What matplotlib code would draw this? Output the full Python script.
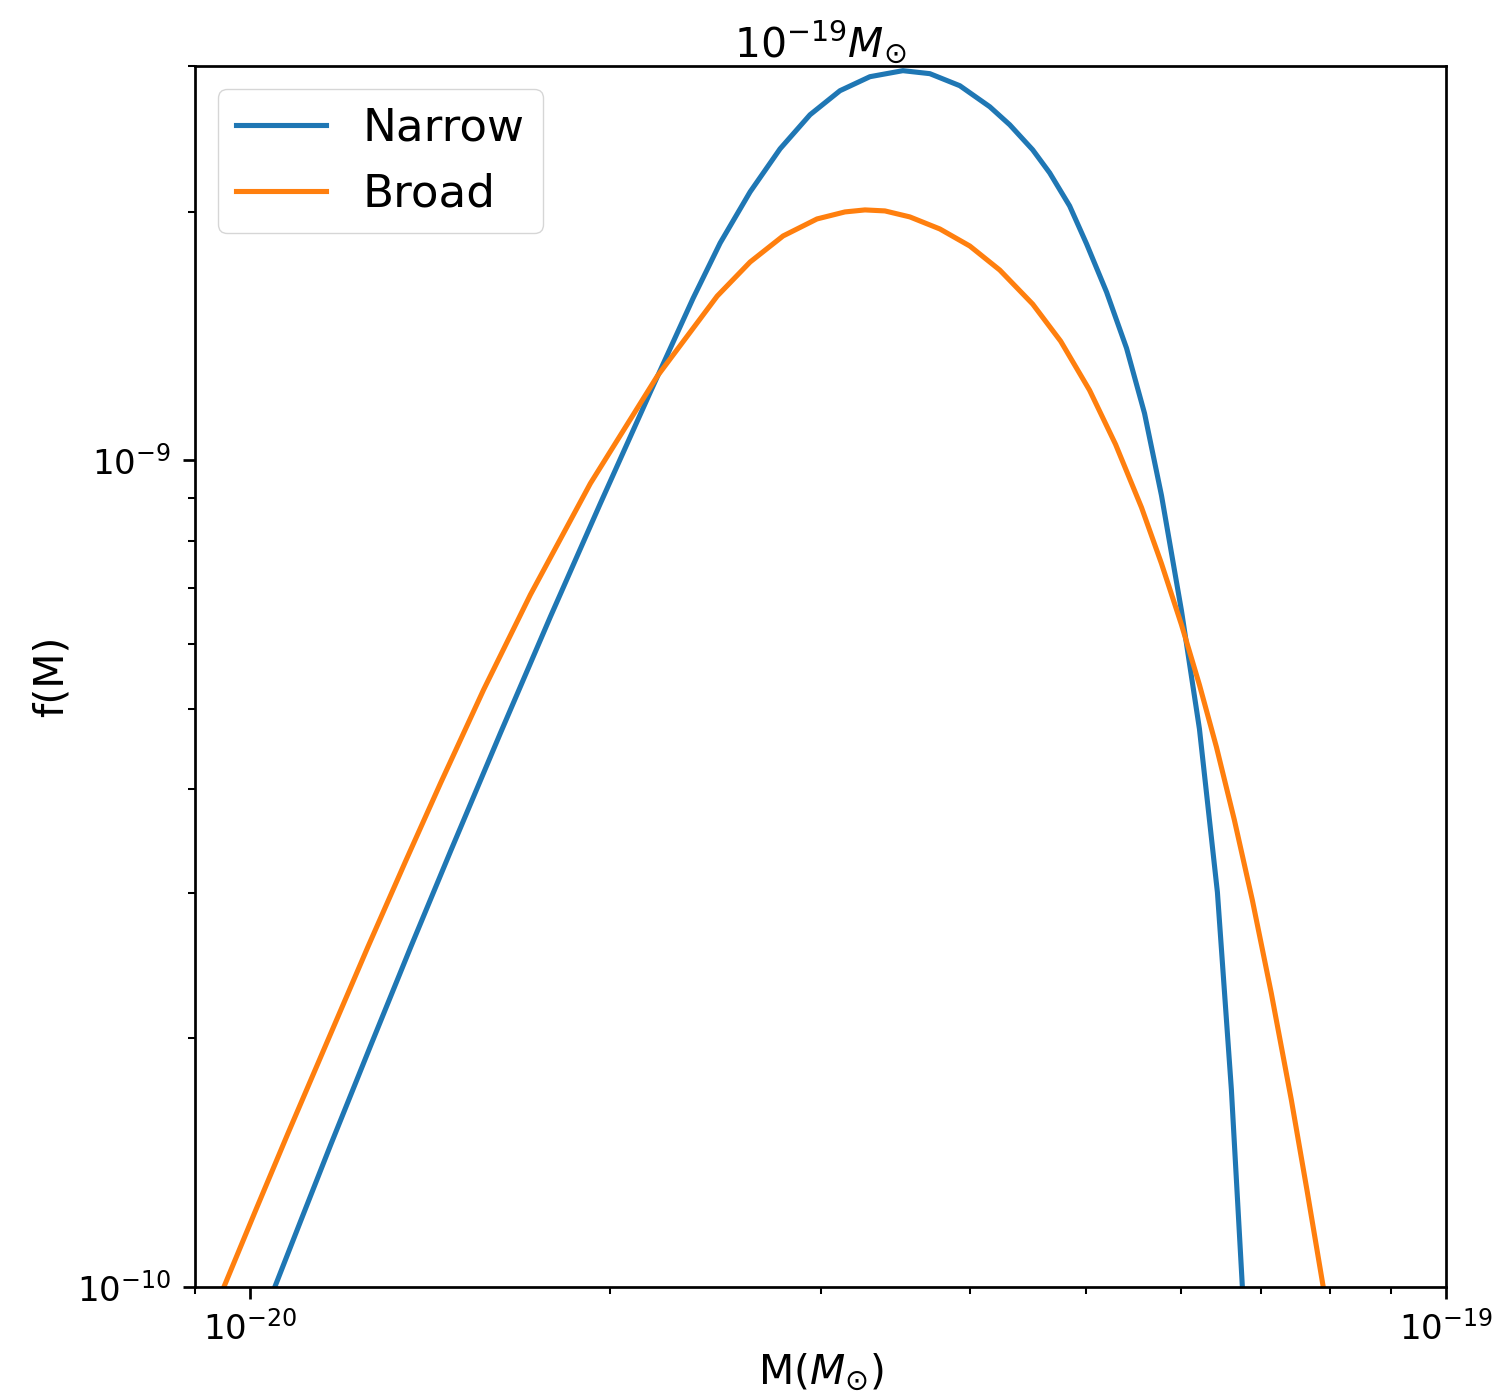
import numpy as np
import matplotlib
matplotlib.use("Agg")
import matplotlib.pyplot as plt

# values (M in solar masses, f(M))
m_narrow = [1.0492e-20, 1.1030e-20, 1.1684e-20, 1.2618e-20, 1.3626e-20, 1.4716e-20,
            1.6200e-20, 1.7834e-20, 1.9633e-20, 2.1612e-20, 2.3475e-20, 2.4726e-20,
            2.6193e-20, 2.7749e-20, 2.9395e-20, 3.1140e-20, 3.2989e-20, 3.5149e-20,
            3.7021e-20, 3.9219e-20, 4.1547e-20, 4.3176e-20, 4.5127e-20, 4.6625e-20,
            4.8452e-20, 5.0061e-20, 5.2023e-20, 5.4062e-20, 5.5965e-20, 5.7823e-20,
            6.0090e-20, 6.2205e-20, 6.4395e-20, 6.6150e-20, 6.7565e-20]
f_narrow = [1.000e-10, 1.2030e-10, 1.4864e-10, 1.9594e-10, 2.5757e-10, 3.3671e-10,
            4.6807e-10, 6.4705e-10, 8.8693e-10, 1.2090e-9, 1.5717e-9, 1.8325e-9,
            2.1127e-9, 2.3822e-9, 2.6192e-9, 2.8007e-9, 2.9122e-9, 2.9615e-9,
            2.9369e-9, 2.8400e-9, 2.6784e-9, 2.5471e-9, 2.3755e-9, 2.2279e-9,
            2.0317e-9, 1.8274e-9, 1.5982e-9, 1.3670e-9, 1.1402e-9, 9.0697e-10,
            6.5797e-10, 4.7331e-10, 3.0031e-10, 1.7329e-10, 1.000e-10]

m_broad = [9.5125e-21, 1.0116e-20, 1.0758e-20, 1.1617e-20, 1.2546e-20, 1.3496e-20,
           1.4436e-20, 1.5680e-20, 1.7161e-20, 1.9260e-20, 2.1905e-20, 2.4585e-20,
           2.6193e-20, 2.7909e-20, 2.9793e-20, 3.1441e-20, 3.2674e-20, 3.3954e-20,
           3.5625e-20, 3.7740e-20, 3.9979e-20, 4.2355e-20, 4.5127e-20, 4.7622e-20,
           5.0350e-20, 5.2931e-20, 5.5642e-20, 5.7823e-20, 6.0090e-20, 6.2205e-20,
           6.4271e-20, 6.6534e-20, 6.8878e-20, 7.1438e-20, 7.4236e-20, 7.6554e-20,
           7.8945e-20]
f_broad = [1.000e-10, 1.2397e-10, 1.5327e-10, 1.9869e-10, 2.5757e-10, 3.2747e-10,
           4.0709e-10, 5.2774e-10, 6.8804e-10, 9.3786e-10, 1.2642e-9, 1.5805e-9,
           1.7378e-9, 1.8686e-9, 1.9594e-9, 1.9981e-9, 2.0093e-9, 2.0037e-9,
           1.9705e-9, 1.9055e-9, 1.8172e-9, 1.6994e-9, 1.5456e-9, 1.3940e-9,
           1.2157e-9, 1.0457e-9, 8.7707e-10, 7.5016e-10, 6.3272e-10, 5.3517e-10,
           4.5014e-10, 3.6716e-10, 2.9369e-10, 2.2654e-10, 1.6853e-10, 1.3036e-10,
           1.000e-10]

s = 2.45
plt.rcParams['font.size'] = 10 * s
plt.rcParams['axes.linewidth'] = 0.8 * s
for ax_ in ('xtick', 'ytick'):
    plt.rcParams[ax_ + '.major.size'] = 3.5 * s
    plt.rcParams[ax_ + '.minor.size'] = 2.0 * s
    plt.rcParams[ax_ + '.major.width'] = 0.8 * s
    plt.rcParams[ax_ + '.minor.width'] = 0.6 * s
    plt.rcParams[ax_ + '.major.pad'] = 3.5 * s
    plt.rcParams[ax_ + '.minor.pad'] = 3.4 * s

fig = plt.figure(figsize=(15.01, 13.93), dpi=100)
ax = fig.add_subplot(111)
fig.subplots_adjust(left=0.13, right=0.9634, top=0.9526, bottom=0.0761)

ax.plot(m_narrow, f_narrow, lw=1.5 * s, label='Narrow')
ax.plot(m_broad, f_broad, lw=1.5 * s, label='Broad')
ax.set_xscale('log')
ax.set_yscale('log')
ax.set_xlim(9e-21, 1e-19)
ax.set_ylim(1e-10, 3e-9)

ax.set_xlabel(r'M($M_{\odot}$)', fontsize=12 * s)
ax.set_ylabel('f(M)', fontsize=12 * s)
ax.set_title(r'$10^{-19}M_{\odot}$', fontsize=12 * s)
ax.legend(loc='upper left', fontsize=13.3 * s)

fig.savefig('out.png', dpi=100)
